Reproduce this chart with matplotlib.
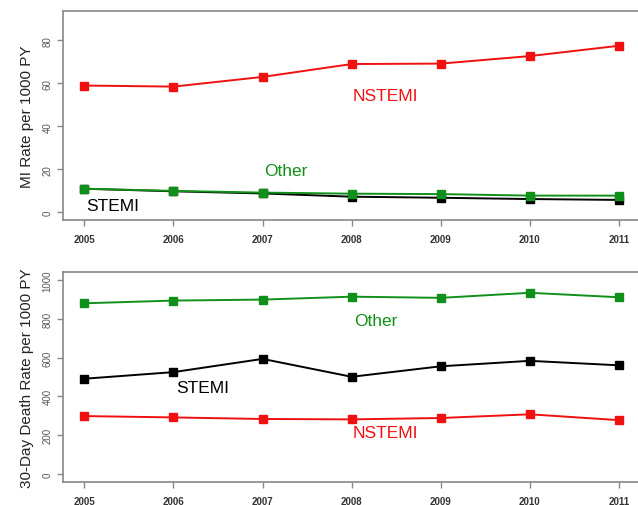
import numpy as np
import matplotlib
matplotlib.use('Agg')
import matplotlib.pyplot as plt

plt.rcParams['font.family'] = ['Liberation Sans', 'DejaVu Sans']

years = [2005, 2006, 2007, 2008, 2009, 2010, 2011]

# MI rate per 1000 PY
mi_nstemi = [59.0, 58.5, 63.0, 69.0, 69.2, 72.7, 77.5]
mi_other = [11.0, 10.0, 9.2, 8.7, 8.5, 7.8, 7.8]
mi_stemi = [11.0, 9.8, 8.8, 7.3, 6.8, 6.2, 5.8]

# 30-day death rate per 1000 PY
death_other = [879, 893, 898, 913, 907, 933, 910]
death_stemi = [491, 525, 593, 501, 555, 583, 560]
death_nstemi = [299, 292, 284, 282, 289, 308, 278]

RED = '#f01010'
GREEN = '#10901a'
BLACK = '#000000'
GREY = '#888888'

fig = plt.figure(figsize=(6.38, 5.06), dpi=100)
ax1 = fig.add_axes([0.0987, 0.563, 0.905, 0.413])
ax2 = fig.add_axes([0.0987, 0.0455, 0.905, 0.415])


def style(ax, ymax, yticks, ylabel):
    ax.set_xlim(2004.76, 2011.24)
    ax.set_ylim(-0.04 * ymax, 1.04 * ymax)
    ax.set_xticks(years)
    ax.set_xticklabels([str(y) for y in years], fontsize=7, color='#333333',
                       fontweight='bold')
    ax.set_yticks(yticks)
    ax.set_yticklabels([str(t) for t in yticks], fontsize=7, color='#555555',
                       rotation=90, va='center')
    for s in ax.spines.values():
        s.set_color(GREY)
        s.set_linewidth(1.2)
    ax.spines['right'].set_visible(False)
    ax.tick_params(axis='both', color=GREY, length=4, width=1)
    ax.tick_params(axis='x', pad=6)
    ax.set_ylabel(ylabel, fontsize=11, color='#222222', labelpad=6)


def series(ax, y, color, z):
    ax.plot(years, y, color=color, lw=1.4, marker='s', ms=5.5,
            markeredgecolor=color, zorder=z, clip_on=False)


series(ax1, mi_nstemi, RED, 3)
series(ax1, mi_stemi, BLACK, 4)
series(ax1, mi_other, GREEN, 5)
style(ax1, 90, [0, 20, 40, 60, 80], 'MI Rate per 1000 PY')
ax1.text(2008.38, 54.4, 'NSTEMI', color=RED, fontsize=12.5, ha='center', va='center')
ax1.text(2007.26, 19.5, 'Other', color=GREEN, fontsize=12.5, ha='center', va='center')
ax1.text(2005.32, 3.3, 'STEMI', color=BLACK, fontsize=12.5, ha='center', va='center')

series(ax2, death_nstemi, RED, 3)
series(ax2, death_stemi, BLACK, 4)
series(ax2, death_other, GREEN, 5)
style(ax2, 1000, [0, 200, 400, 600, 800, 1000], '30-Day Death Rate per 1000 PY')
ax2.text(2008.27, 790, 'Other', color=GREEN, fontsize=12.5, ha='center', va='center')
ax2.text(2006.33, 446, 'STEMI', color=BLACK, fontsize=12.5, ha='center', va='center')
ax2.text(2008.38, 215, 'NSTEMI', color=RED, fontsize=12.5, ha='center', va='center')

fig.savefig('out.png', dpi=100)
